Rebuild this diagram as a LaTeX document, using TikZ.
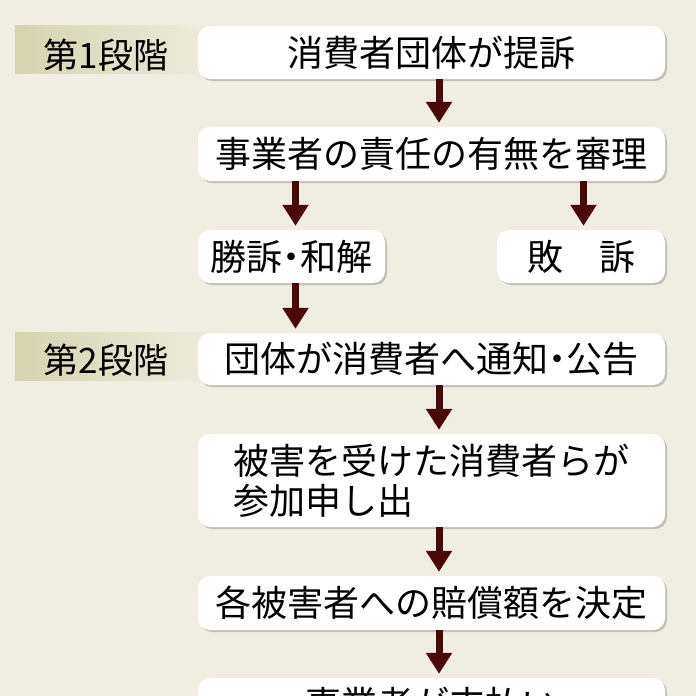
\documentclass[tikz,border=0pt]{standalone}
\usepackage{fontspec}
\setmainfont{Noto Sans CJK JP}
\usetikzlibrary{arrows.meta,shadows}
\definecolor{bg}{HTML}{F0EEE3}
\definecolor{band}{HTML}{D6D4AE}
\definecolor{arrowc}{HTML}{4A0808}
\newcommand\mdot{\makebox[0.5em][c]{・}}
\tikzset{
  box/.style={draw=none, fill=white, rounded corners=12pt, inner sep=0pt,
    font=\fontsize{36}{40}\selectfont, text=black,
    drop shadow={shadow xshift=2pt, shadow yshift=-2pt, opacity=0.28, fill=black!70}},
  stagelabel/.style={font=\fontsize{35}{40}\selectfont, text=black, inner sep=0pt},
  arr/.style={draw=arrowc, line width=7pt, -{Triangle[width=25pt,length=21pt]}, shorten >=4pt}
}
\begin{document}
\begin{tikzpicture}[x=1pt,y=-1pt]
\useasboundingbox (0,0) rectangle (696,696);
\fill[bg] (0,0) rectangle (696,696);
\clip (0,0) rectangle (696,696);
% stage bands
\shade[left color=band, right color=bg] (15,25) rectangle (235,73);
\shade[left color=band, right color=bg] (15,332) rectangle (235,380);
\node[stagelabel] (s1) at (106,55) {第1段階};
\node[stagelabel] (s2) at (106,360) {第2段階};
% column positions
\coordinate (mx) at (439,0);
\coordinate (lx) at (295.5,0);
\coordinate (rx) at (583.5,0);
% boxes
\node[box, minimum width=467pt, minimum height=53pt] (b1) at (431.5,52.5) {消費者団体が提訴};
\node[box, minimum width=467pt, minimum height=54pt] (b2) at (431.5,154) {事業者の責任の有無を審理};
\node[box, minimum width=187pt, minimum height=53pt] (b3) at (291.5,256.5) {勝訴\mdot 和解};
\node[box, minimum width=168pt, minimum height=53pt] (b4) at (581,256.5) {敗　訴};
\node[box, minimum width=467pt, minimum height=52pt] (b5) at (431.5,359) {団体が消費者へ通知\mdot 公告};
\node[box, minimum width=467pt, minimum height=93pt, align=left] (b6) at (431.5,480.5) {被害を受けた消費者らが\\参加申し出};
\node[box, minimum width=467pt, minimum height=54pt] (b7) at (431.5,603) {各被害者への賠償額を決定};
\node[box, minimum width=467pt, minimum height=52pt] (b8) at (431.5,704) {事業者が支払い};
% arrows
\draw[arr] (b1.south -| mx) -- (b2.north -| mx);
\draw[arr] (b2.south -| lx) -- (b3.north -| lx);
\draw[arr] (b2.south -| rx) -- (b4.north -| rx);
\draw[arr] (b3.south -| lx) -- (b5.north -| lx);
\draw[arr] (b5.south -| mx) -- (b6.north -| mx);
\draw[arr] (b6.south -| mx) -- (b7.north -| mx);
\draw[arr] (b7.south -| mx) -- (b8.north -| mx);
\end{tikzpicture}
\end{document}
